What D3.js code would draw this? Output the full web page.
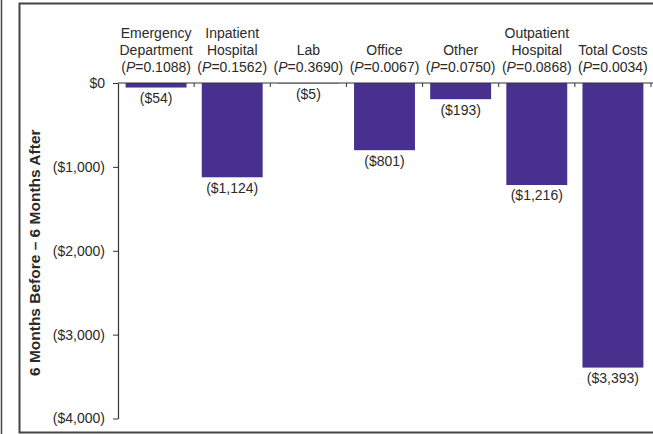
<!DOCTYPE html>
<html>
<head>
<meta charset="utf-8">
<script src="https://cdn.jsdelivr.net/npm/d3@7"></script>
<style>
body { margin: 0; background: #fff; }
svg text { font-family: "Liberation Sans", Arial, Helvetica, sans-serif; fill: #2a2a2a; }
</style>
</head>
<body>
<div id="bar-chart" style="width:653px;height:434px;"></div>
<script>
var categories = ["Emergency Department", "Inpatient Hospital", "Lab", "Office", "Other", "Outpatient Hospital", "Total Costs"];
var labelLines = [["Emergency", "Department"], ["Inpatient", "Hospital"], ["Lab"], ["Office"], ["Other"], ["Outpatient", "Hospital"], ["Total Costs"]];
var pValues = ["0.1088", "0.1562", "0.3690", "0.0067", "0.0750", "0.0868", "0.0034"];
var values = [-54, -1124, -5, -801, -193, -1216, -3393];
var yTicks = [0, -1000, -2000, -3000, -4000];

var dom = document.getElementById('bar-chart');
var width = 653, height = 434;

var svg = d3.select(dom)
	.append("svg")
	.attr("width", width)
	.attr("height", height);

var padding = {left:118, right:2, top:83, bottom:15};

// frame lines
svg.append("line")
	.attr("x1", 1.5).attr("x2", 1.5).attr("y1", 0).attr("y2", height)
	.attr("stroke", "#444").attr("stroke-width", 1.5);
svg.append("rect")
	.attr("x", 19.5).attr("y", 3.5)
	.attr("width", width).attr("height", 429)
	.attr("fill", "none").attr("stroke", "#444").attr("stroke-width", 2);

var xScale = d3.scaleBand()
	.domain(categories)
	.range([padding.left, width - padding.right])
	.paddingInner(0.2)
	.paddingOuter(0.1);

var yScale = d3.scaleLinear()
	.domain([-4000, 0])
	.range([height - padding.bottom - 0.5, padding.top]);

var money = function(v){
	return v === 0 ? "$0" : "($" + d3.format(",")(Math.abs(v)) + ")";
};

var yAxis = d3.axisLeft(yScale)
	.tickValues(yTicks)
	.tickFormat(money)
	.tickSizeInner(5)
	.tickSizeOuter(0)
	.tickPadding(8);

var yG = svg.append("g")
	.attr("transform", "translate(" + padding.left + ",0)")
	.call(yAxis);
yG.select(".domain").attr("stroke", "#333").attr("stroke-width", 1.2);
yG.selectAll(".tick line").attr("stroke", "#333");
yG.selectAll(".tick text").style("font-size", "14px").attr("fill", "#2a2a2a");

// bars
svg.append("g").selectAll(".bar")
	.data(values)
	.enter()
	.append("rect")
	.attr("class", "bar")
	.attr("x", function(d, i){ return xScale(categories[i]); })
	.attr("y", yScale(0))
	.attr("width", xScale.bandwidth())
	.attr("height", function(d){ return yScale(d) - yScale(0); })
	.attr("fill", "#48308f");

// value labels
svg.append("g").selectAll(".val")
	.data(values)
	.enter()
	.append("text")
	.attr("x", function(d, i){ return xScale(categories[i]) + xScale.bandwidth() / 2; })
	.attr("y", function(d){ return yScale(d) + 15.5; })
	.attr("text-anchor", "middle")
	.style("font-size", "14px")
	.text(money);

// x axis line at zero with boundary ticks
svg.append("line")
	.attr("x1", padding.left).attr("x2", width)
	.attr("y1", yScale(0)).attr("y2", yScale(0))
	.attr("stroke", "#333").attr("stroke-width", 1.2);

var step = xScale.step();
svg.append("g").selectAll(".bt")
	.data(categories.slice(1).concat(["end"]))
	.enter()
	.append("line")
	.attr("x1", function(d, i){ return xScale(categories[0]) - step * 0.1 + step * (i + 1); })
	.attr("x2", function(d, i){ return xScale(categories[0]) - step * 0.1 + step * (i + 1); })
	.attr("y1", yScale(0)).attr("y2", yScale(0) + 4)
	.attr("stroke", "#333");

// category labels
var catG = svg.append("g").selectAll(".cat")
	.data(categories)
	.enter()
	.append("text")
	.attr("text-anchor", "middle")
	.attr("transform", function(d){ return "translate(" + (xScale(d) + xScale.bandwidth() / 2) + ",72)"; })
	.style("font-size", "14px");

catG.each(function(d, i){
	var t = d3.select(this);
	var lines = labelLines[i];
	lines.forEach(function(l, j){
		t.append("tspan")
			.attr("x", 0)
			.attr("y", -17 * (lines.length - j))
			.text(l);
	});
	var p = t.append("tspan").attr("x", 0).attr("y", 0);
	p.append("tspan").text("(");
	p.append("tspan").style("font-style", "italic").text("P");
	p.append("tspan").text("=" + pValues[i] + ")");
});

// y axis title
svg.append("text")
	.attr("transform", "translate(40," + ((yScale(0) + yScale(-4000)) / 2 + 2) + ") rotate(-90)")
	.attr("text-anchor", "middle")
	.style("font-size", "15.5px")
	.style("font-weight", "bold")
	.text("6 Months Before \u2013 6 Months After");
</script>
</body>
</html>
